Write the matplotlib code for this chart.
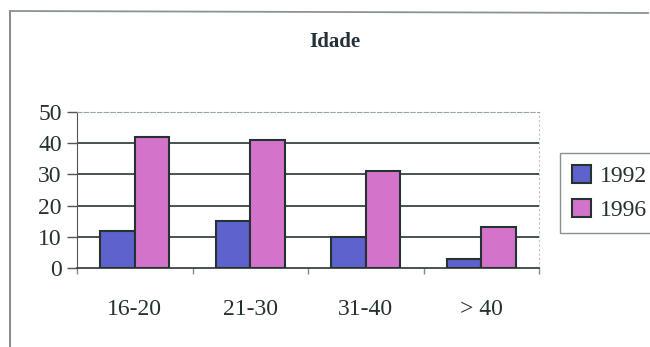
import numpy as np
import matplotlib.pyplot as plt
from matplotlib.lines import Line2D

# faixas etárias e contagens por ano
faixas = ['16-20', '21-30', '31-40', '> 40']
anos = ['1992', '1996']
v1992 = [12, 15, 10, 3]
v1996 = [42, 41, 31, 13]

cor_1992 = '#5d62cc'
cor_1996 = '#d373c9'
borda = '#263232'
texto = '#253030'

plt.rcParams['font.family'] = ['Liberation Serif', 'DejaVu Serif']

fig = plt.figure(figsize=(6.5, 3.47), dpi=100)
ax = fig.add_axes([77/650, 79/347, 462/650, 156/347])

x = np.arange(len(faixas))
w = 0.3
ax.bar(x - w/2, v1992, w, color=cor_1992, edgecolor=borda, linewidth=1.5, label=anos[0], zorder=3)
ax.bar(x + w/2, v1996, w, color=cor_1996, edgecolor=borda, linewidth=1.5, label=anos[1], zorder=3)

ax.set_xlim(-0.5, len(faixas) - 0.5)
ax.set_ylim(0, 50)
ax.set_yticks([0, 10, 20, 30, 40, 50])
ax.set_yticklabels(['0', '10', '20', '30', '40', '50'], fontsize=17, color=texto)
ax.tick_params(axis='y', length=7, width=1, color='#555555', pad=4)

# rótulos das faixas centrados, marcas entre os grupos
ax.set_xticks(np.arange(len(faixas) + 1) - 0.5)
ax.set_xticklabels([])
ax.set_xticks(x, minor=True)
ax.set_xticklabels(faixas, minor=True, fontsize=17, color=texto)
ax.tick_params(axis='x', which='major', length=4, width=1, color='#888888')
ax.tick_params(axis='x', which='minor', length=0, pad=22)

for g in [10, 20, 30, 40]:
    ax.axhline(g, color='#3a4444', linewidth=1.3, zorder=1)

ax.spines['left'].set_color('#555555')
ax.spines['bottom'].set_color('#3a4444')
ax.spines['bottom'].set_linewidth(1.3)
ax.spines['top'].set_color('#9aa4a4')
ax.spines['top'].set_linestyle((0, (4, 2)))
ax.spines['right'].set_color('#b8c0c0')
ax.spines['right'].set_linestyle((0, (1, 3)))

fig.text(335/650, 1 - 42/347, 'Idade', ha='center', va='center',
         fontsize=15, fontweight='bold', color='#24303a')

leg = fig.legend(loc='center left', bbox_to_anchor=(560/650, 1 - 193/347),
                 fontsize=17, frameon=True, fancybox=False, handlelength=0.8,
                 handleheight=0.8, handletextpad=0.4, borderpad=0.5,
                 labelspacing=0.5, borderaxespad=0)
leg.get_frame().set_edgecolor('#6a7474')
leg.get_frame().set_linewidth(1)
for t in leg.get_texts():
    t.set_color(texto)

# moldura externa do gráfico (topo e lado esquerdo)
fig.add_artist(Line2D([10/650, 10/650], [0, 1 - 11/347], transform=fig.transFigure,
                      color='#7a8484', linewidth=1.3))
fig.add_artist(Line2D([10/650, 648/650], [1 - 11/347, 1 - 13/347], transform=fig.transFigure,
                      color='#8a9494', linewidth=1.3))

fig.savefig('out.png', dpi=100)
